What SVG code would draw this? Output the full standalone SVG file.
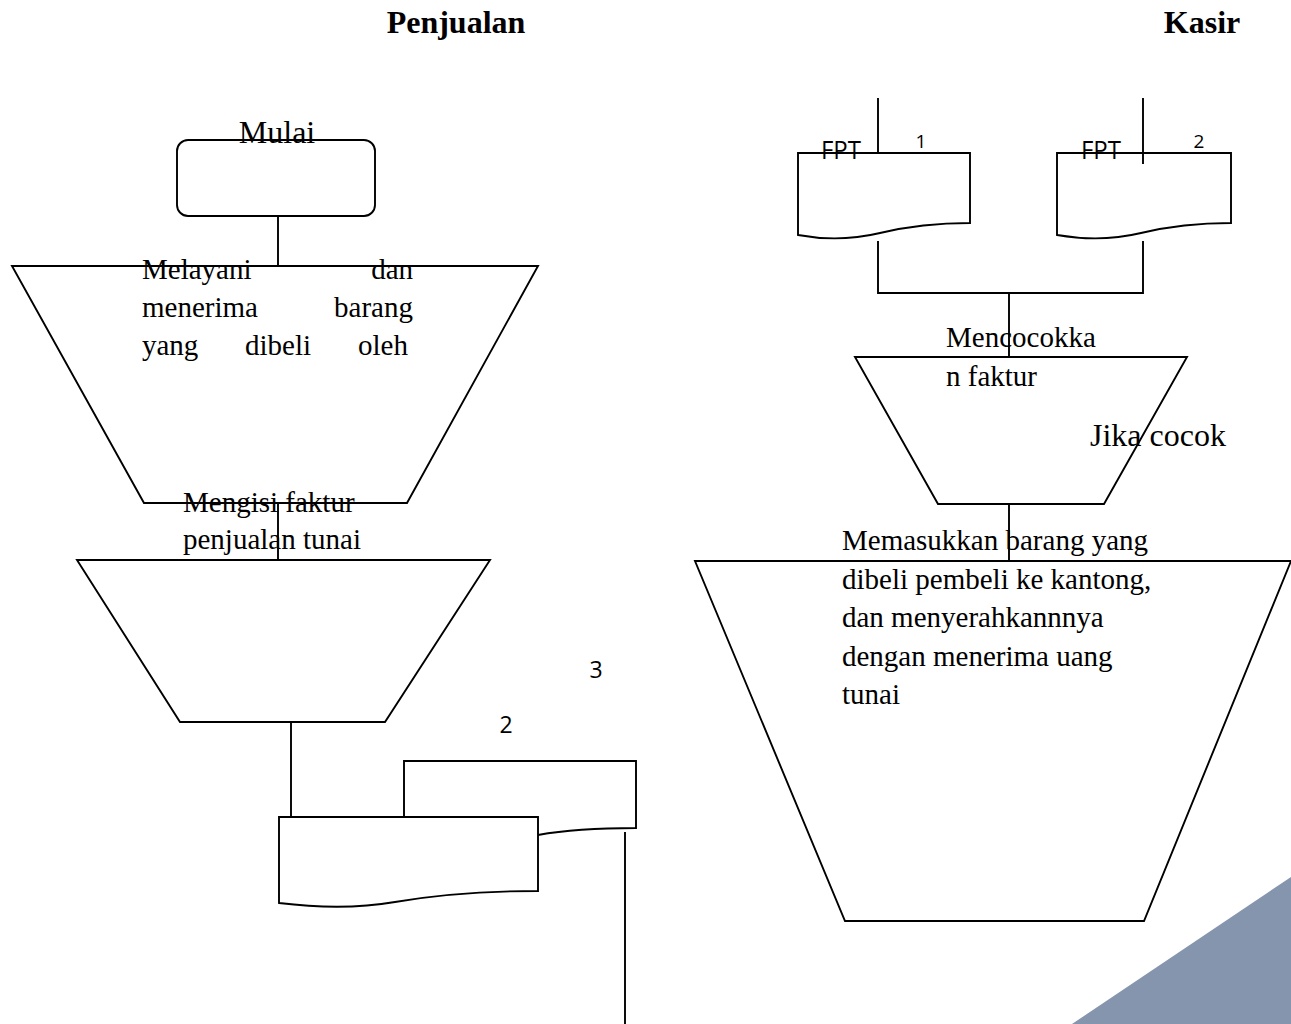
<svg xmlns="http://www.w3.org/2000/svg" width="1291" height="1024" viewBox="0 0 1291 1024">
  <style>
    .shape { fill: none; stroke: #000; stroke-width: 1.9; stroke-linejoin: miter; }
    .wire { fill: none; stroke: #000; stroke-width: 1.9; }
    .serif { font-family: "Liberation Serif", "Times New Roman", serif; font-size: 29px; fill: #000; }
    .big { font-size: 32px; }
    .title { font-family: "Liberation Serif", "Times New Roman", serif; font-size: 32px; font-weight: bold; fill: #000; }
    .sans { font-family: "Open Sans", "Liberation Sans", sans-serif; fill: #000; }
  </style>
  <rect x="0" y="0" width="1291" height="1024" fill="#fff"/>

  <!-- decorative corner -->
  <polygon points="1072,1024 1291,877 1291,1024" fill="#8595ae"/>

  <!-- lane titles -->
  <text class="title" x="456" y="33" text-anchor="middle">Penjualan</text>
  <text class="title" x="1202" y="33" text-anchor="middle">Kasir</text>

  <!-- connectors -->
  <g id="connectors">
    <line class="wire" x1="278" y1="216" x2="278" y2="266"/>
    <line class="wire" x1="278" y1="503" x2="278" y2="560"/>
    <line class="wire" x1="291" y1="722" x2="291" y2="817"/>
    <line class="wire" x1="625" y1="832" x2="625" y2="1024"/>
    <line class="wire" x1="878" y1="98" x2="878" y2="153"/>
    <line class="wire" x1="1143" y1="98" x2="1143" y2="164"/>
    <polyline class="wire" points="878,241 878,293 1143,293 1143,241"/>
    <line class="wire" x1="1009" y1="293" x2="1009" y2="357"/>
    <line class="wire" x1="1009" y1="504" x2="1009" y2="561"/>
  </g>

  <!-- start terminator -->
  <g id="mulai">
    <rect class="shape" x="177" y="140" width="198" height="76" rx="11"/>
    <text class="serif big" x="277" y="143" text-anchor="middle">Mulai</text>
  </g>

  <!-- serve and receive goods -->
  <g id="melayani">
    <polygon class="shape" points="12,266 538,266 407,503 144,503"/>
    <text class="serif" x="142" y="279">Melayani</text>
    <text class="serif" x="413" y="279" text-anchor="end">dan</text>
    <text class="serif" x="142" y="317">menerima</text>
    <text class="serif" x="413" y="317" text-anchor="end">barang</text>
    <text class="serif" x="142" y="355">yang</text>
    <text class="serif" x="245" y="355">dibeli</text>
    <text class="serif" x="358" y="355">oleh</text>
  </g>

  <!-- fill in cash sales invoice -->
  <g id="mengisi">
    <polygon class="shape" points="77,560 490,560 385,722 180,722"/>
    <text class="serif" x="183" y="512">Mengisi faktur</text>
    <text class="serif" x="183" y="549">penjualan tunai</text>
  </g>

  <!-- invoice copies -->
  <g id="faktur-rangkap">
    <path class="shape" d="M404,817 L404,761 L636,761 L636,828 C600,828 560,831 538,835"/>
    <path class="shape" d="M279,817 L538,817 L538,891 C470,891 430,896 395,902 C360,908 320,908 279,903 Z"/>
    <text class="sans" x="506" y="733" font-size="23" text-anchor="middle">2</text>
    <text class="sans" x="596" y="678" font-size="23" text-anchor="middle">3</text>
  </g>

  <!-- FPT copy 1 -->
  <g id="fpt-1">
    <path class="shape" d="M798,153 L970,153 L970,223 C930,223 905,227 880,233 C855,239 825,240 798,235 Z"/>
    <text class="sans" x="821" y="159" font-size="26" textLength="40" lengthAdjust="spacingAndGlyphs">FPT</text>
    <text class="sans" x="921" y="148" font-size="19" text-anchor="middle">1</text>
  </g>

  <!-- FPT copy 2 -->
  <g id="fpt-2">
    <path class="shape" d="M1057,153 L1231,153 L1231,223 C1191,223 1166,227 1141,233 C1116,239 1086,240 1057,235 Z"/>
    <text class="sans" x="1081" y="159" font-size="26" textLength="40" lengthAdjust="spacingAndGlyphs">FPT</text>
    <text class="sans" x="1199" y="148" font-size="19" text-anchor="middle">2</text>
  </g>

  <!-- match invoices -->
  <g id="mencocokkan">
    <polygon class="shape" points="855,357 1187,357 1104,504 938,504"/>
    <text class="serif" x="946" y="347">Mencocokka</text>
    <text class="serif" x="946" y="386">n faktur</text>
    <text class="serif big" x="1090" y="446">Jika cocok</text>
  </g>

  <!-- pack goods and receive cash -->
  <g id="memasukkan">
    <polygon class="shape" points="695,561 1291,561 1144,921 845,921"/>
    <text class="serif" x="842" y="550">Memasukkan barang yang</text>
    <text class="serif" x="842" y="589">dibeli pembeli ke kantong,</text>
    <text class="serif" x="842" y="627">dan menyerahkannnya</text>
    <text class="serif" x="842" y="666">dengan menerima uang</text>
    <text class="serif" x="842" y="704">tunai</text>
  </g>
</svg>
